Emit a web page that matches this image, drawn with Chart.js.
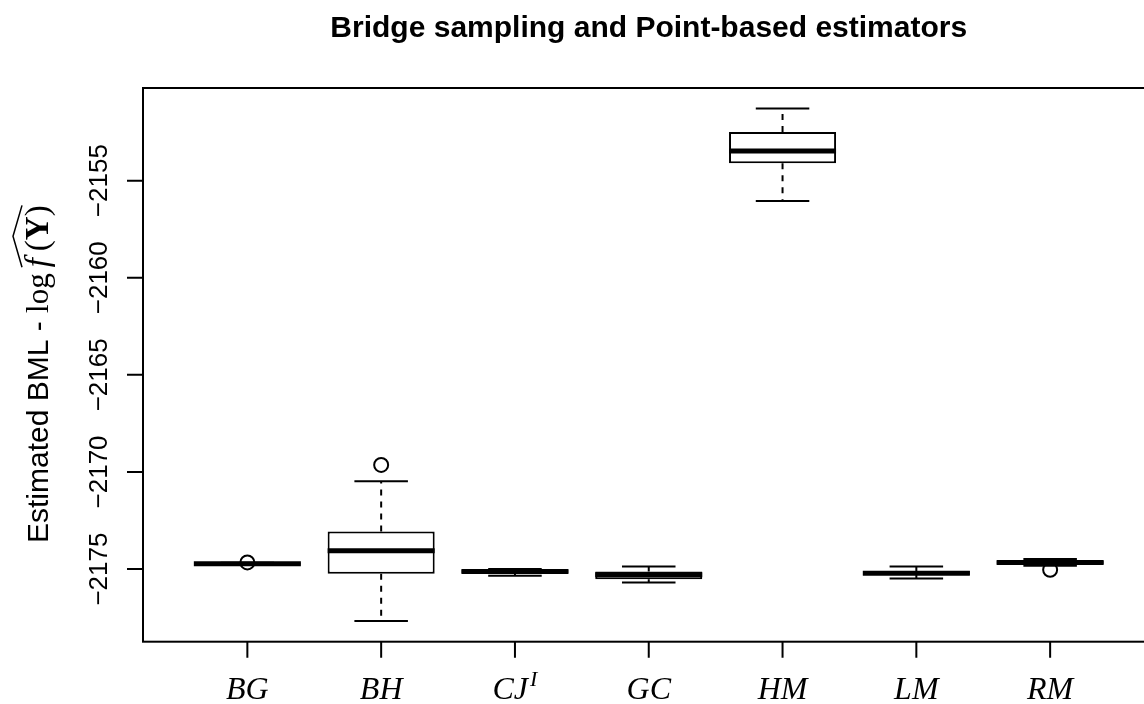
<!DOCTYPE html>
<html>
<head>
<meta charset="utf-8">
<script src="https://cdn.jsdelivr.net/npm/chart.js@4.4.1/dist/chart.umd.min.js"></script>
<style>
html, body { margin: 0; padding: 0; background: #fff; overflow: hidden; }
#wrap { width: 1170px; height: 704px; }
</style>
</head>
<body>
<div id="wrap"><canvas id="graphCanvas" width="1170" height="704"></canvas></div>
<script>
// Datos
const estimators = ['BG', 'BH', 'CJ', 'GC', 'HM', 'LM', 'RM'];
const estimatorSup = ['', '', 'I', '', '', '', ''];
const whiskerLow  = [-2174.78, -2177.68, -2175.34, -2175.69, -2156.05, -2175.48, -2174.83];
const q1          = [-2174.76, -2175.24, -2175.20, -2175.52, -2154.11, -2175.30, -2174.74];
const median      = [-2174.73, -2174.06, -2175.12, -2175.29, -2153.47, -2175.21, -2174.66];
const q3          = [-2174.70, -2173.06, -2175.04, -2175.12, -2152.50, -2175.10, -2174.58];
const whiskerHigh = [-2174.68, -2170.48, -2175.00, -2174.87, -2151.29, -2174.87, -2174.48];
const outlierGroup = ['BG', 'BH', 'RM'];
const outlierValue = [-2174.66, -2169.64, -2175.04];
const yTicks = [-2175, -2170, -2165, -2160, -2155];
const yMin = -2178.74;
const yMax = -2150.23;

const titleText = 'Bridge sampling and Point-based estimators';

// Bigotes, topes y mediana de cada caja
const boxParts = {
    id: 'boxParts',
    afterDatasetsDraw(chart) {
        const { ctx, scales: { x, y } } = chart;
        const bars = chart.getDatasetMeta(0).data;
        ctx.save();
        ctx.strokeStyle = '#000';
        estimators.forEach((e, i) => {
            const cx = x.getPixelForValue(i + 1);
            const half = bars[i].width / 2;
            // bigotes discontinuos
            ctx.lineWidth = 2;
            ctx.setLineDash([6, 6]);
            ctx.beginPath();
            ctx.moveTo(cx, y.getPixelForValue(q3[i]));
            ctx.lineTo(cx, y.getPixelForValue(whiskerHigh[i]));
            ctx.moveTo(cx, y.getPixelForValue(q1[i]));
            ctx.lineTo(cx, y.getPixelForValue(whiskerLow[i]));
            ctx.stroke();
            // topes
            ctx.setLineDash([]);
            ctx.beginPath();
            [whiskerHigh[i], whiskerLow[i]].forEach(v => {
                const py = y.getPixelForValue(v);
                ctx.moveTo(cx - half / 2, py);
                ctx.lineTo(cx + half / 2, py);
            });
            ctx.stroke();
            // mediana
            ctx.lineWidth = 5;
            ctx.beginPath();
            const my = y.getPixelForValue(median[i]);
            ctx.moveTo(cx - half, my);
            ctx.lineTo(cx + half, my);
            ctx.stroke();
        });
        ctx.restore();
    }
};

// Marco, ejes, etiquetas y título al estilo de R
const frameAndText = {
    id: 'frameAndText',
    afterDraw(chart) {
        const { ctx, chartArea: a, scales: { x, y } } = chart;
        ctx.save();
        ctx.strokeStyle = '#000';
        ctx.fillStyle = '#000';
        ctx.lineWidth = 2;
        ctx.strokeRect(a.left, a.top, a.right - a.left, a.bottom - a.top);

        // eje y
        ctx.beginPath();
        yTicks.forEach(t => {
            const py = y.getPixelForValue(t);
            ctx.moveTo(a.left - 16, py);
            ctx.lineTo(a.left, py);
        });
        ctx.stroke();
        ctx.font = '26px "Liberation Sans"';
        ctx.textAlign = 'center';
        ctx.textBaseline = 'alphabetic';
        yTicks.forEach(t => {
            const py = y.getPixelForValue(t);
            ctx.save();
            ctx.translate(107, py);
            ctx.rotate(-Math.PI / 2);
            ctx.fillText(String(t).replace('-', '\u2212'), 0, 0);
            ctx.restore();
        });

        // eje x
        ctx.beginPath();
        estimators.forEach((e, i) => {
            const px = x.getPixelForValue(i + 1);
            ctx.moveTo(px, a.bottom);
            ctx.lineTo(px, a.bottom + 16);
        });
        ctx.stroke();
        ctx.textAlign = 'left';
        estimators.forEach((e, i) => {
            const px = x.getPixelForValue(i + 1);
            ctx.font = 'italic 32px "Liberation Serif"';
            const w1 = ctx.measureText(e).width;
            let w2 = 0;
            if (estimatorSup[i]) {
                ctx.font = 'italic 22px "Liberation Serif"';
                w2 = ctx.measureText(estimatorSup[i]).width + 2;
            }
            const start = px - (w1 + w2) / 2;
            ctx.font = 'italic 32px "Liberation Serif"';
            ctx.fillText(e, start, 699);
            if (estimatorSup[i]) {
                ctx.font = 'italic 22px "Liberation Serif"';
                ctx.fillText(estimatorSup[i], start + w1 + 2, 686);
            }
        });

        // título
        ctx.font = 'bold 30px "Liberation Sans"';
        ctx.textAlign = 'center';
        ctx.fillText(titleText, (a.left + a.right) / 2, 37);

        // título del eje y
        ctx.save();
        ctx.translate(48, 543);
        ctx.rotate(-Math.PI / 2);
        ctx.textAlign = 'left';
        let pos = 0;
        const seg = (txt, font) => {
            ctx.font = font;
            ctx.fillText(txt, pos, 0);
            pos += ctx.measureText(txt).width;
        };
        seg('Estimated BML - ', '30px "Liberation Sans"');
        seg('log', '31px "Liberation Serif"');
        pos += 6;
        const hatStart = pos;
        seg('f', 'italic 33px "Liberation Serif"');
        pos += 7;
        seg('(', '33px "Liberation Serif"');
        seg('Y', 'bold 33px "Liberation Serif"');
        seg(')', '33px "Liberation Serif"');
        const hatEnd = pos;
        ctx.lineWidth = 1.5;
        ctx.beginPath();
        ctx.moveTo(hatStart, -26);
        ctx.lineTo((hatStart + hatEnd) / 2, -35);
        ctx.lineTo(hatEnd, -26);
        ctx.stroke();
        ctx.restore();

        ctx.restore();
    }
};

const ctx = document.getElementById('graphCanvas').getContext('2d');
window.myChart = new Chart(ctx, {
    type: 'bar',
    data: {
        datasets: [
            // Cajas (cuartiles)
            {
                type: 'bar',
                data: estimators.map((e, i) => ({ x: i + 1, y: [q1[i], q3[i]] })),
                backgroundColor: '#ffffff',
                borderColor: '#000000',
                borderWidth: 2,
                borderSkipped: false,
                categoryPercentage: 1,
                barPercentage: 0.8
            },
            // Valores atípicos
            {
                type: 'scatter',
                data: outlierGroup.map((g, i) => ({ x: estimators.indexOf(g) + 1, y: outlierValue[i] })),
                pointRadius: 7,
                pointBorderWidth: 2,
                pointBorderColor: '#000000',
                pointBackgroundColor: 'rgba(0,0,0,0)',
                showLine: false
            }
        ]
    },
    options: {
        responsive: false,
        animation: false,
        devicePixelRatio: 1,
        layout: { padding: { left: 143, top: 88, right: 15.5, bottom: 62.3 } },
        scales: {
            x: {
                type: 'linear', display: false, offset: false, min: 0.22, max: 7.78,
                afterBuildTicks: scale => { scale.ticks = estimators.map((e, i) => ({ value: i + 1 })); }
            },
            y: {
                type: 'linear', display: false, min: yMin, max: yMax,
                afterBuildTicks: scale => { scale.ticks = yTicks.map(v => ({ value: v })); }
            }
        },
        plugins: {
            legend: { display: false },
            tooltip: { enabled: false }
        }
    },
    plugins: [boxParts, frameAndText]
});
</script>
</body>
</html>
